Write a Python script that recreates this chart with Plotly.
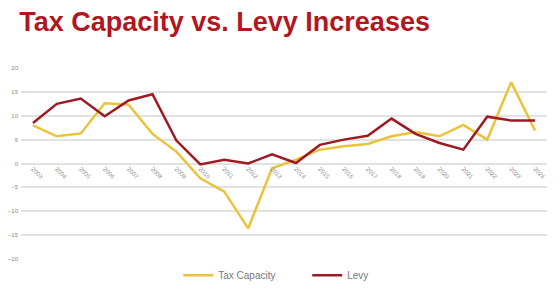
import plotly.graph_objects as go

YEARS = [str(y) for y in range(2003, 2025)]

TAX_CAPACITY = [8.0, 5.7, 6.3, 12.6, 12.3, 6.2, 2.5, -3.1, -5.9, -13.6, -1.0,
                0.8, 2.9, 3.6, 4.1, 5.7, 6.6, 5.7, 8.1, 5.0, 17.0, 6.9]
LEVY = [8.5, 12.5, 13.6, 9.9, 13.2, 14.5, 4.8, -0.2, 0.8, 0.0, 1.9,
        0.1, 3.9, 5.0, 5.8, 9.4, 6.2, 4.3, 2.9, 9.8, 9.0, 9.0]

Y_TICKS = [-20, -15, -10, -5, 0, 5, 10, 15, 20]

GOLD = "#EBC33A"
RED = "#9E1A22"

fig = go.Figure()
fig.add_trace(go.Scatter(x=YEARS, y=TAX_CAPACITY, mode="lines", name="Tax Capacity",
                         line=dict(color=GOLD, width=2.5)))
fig.add_trace(go.Scatter(x=YEARS, y=LEVY, mode="lines", name="Levy",
                         line=dict(color=RED, width=2.5)))

# page body has an 8px default margin, so offsets below account for it
fig.update_layout(
    width=560, height=291,
    margin=dict(l=13, r=21, t=60, b=40),
    paper_bgcolor="white",
    plot_bgcolor="white",
    font=dict(family="Liberation Sans, Arial, sans-serif", color="#8a8a8a"),
    title=dict(
        text="<b>Tax Capacity vs. Levy Increases</b>",
        xref="container", yref="container",
        x=0.02, xanchor="left",
        y=0.955, yanchor="middle",
        font=dict(family="Liberation Sans, Arial, sans-serif", size=27, color="#B0171F"),
    ),
    showlegend=True,
    legend=dict(
        orientation="h",
        xref="container", yref="container",
        x=0.304, xanchor="left",
        y=0.082, yanchor="middle",
        font=dict(size=10, color="#777777"),
        itemwidth=30,
        entrywidth=84,
    ),
)

fig.update_xaxes(
    type="category",
    range=[-0.5, len(YEARS) - 0.5],
    anchor="free", position=0.5,
    automargin=False,
    showgrid=False, showline=False, zeroline=False,
    ticks="", tickangle=45,
    tickfont=dict(size=6, color="#8a8a8a"),
)
fig.update_yaxes(
    range=[-20, 20],
    tickvals=Y_TICKS,
    automargin=False,
    showgrid=True, gridcolor="#e2e2e2", gridwidth=1.5,
    zeroline=False, showline=False,
    tickfont=dict(size=6, color="#8a8a8a"),
    ticklabelstandoff=2,
)

fig.write_html("out.html")
